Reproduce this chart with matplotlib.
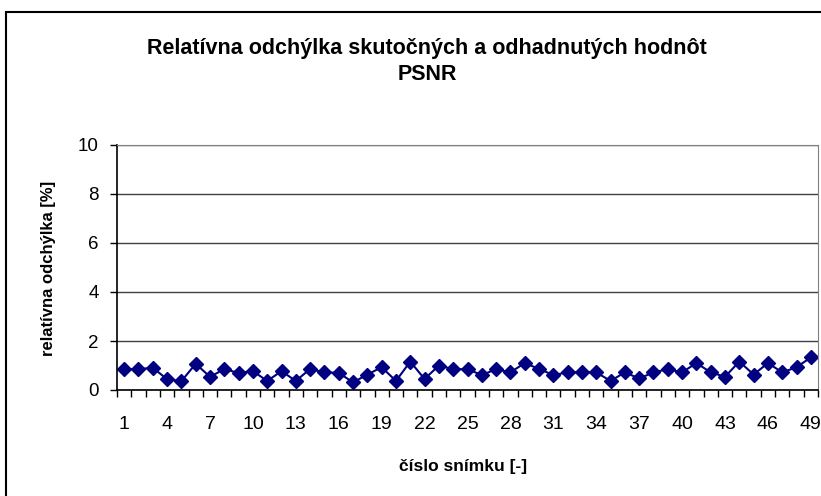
import matplotlib.pyplot as plt
from matplotlib.patches import Rectangle
import numpy as np

plt.rcParams['font.family'] = ['Liberation Sans', 'DejaVu Sans']

# relative deviation per frame [%]
frames = list(range(1, 50))
deviation = [0.85, 0.85, 0.91, 0.44, 0.36, 1.07, 0.54, 0.85, 0.70, 0.77,
             0.37, 0.77, 0.37, 0.86, 0.72, 0.70, 0.31, 0.63, 0.93, 0.37,
             1.16, 0.45, 1.00, 0.85, 0.85, 0.61, 0.85, 0.72, 1.10, 0.86,
             0.61, 0.72, 0.72, 0.72, 0.37, 0.72, 0.47, 0.72, 0.85, 0.72,
             1.10, 0.72, 0.54, 1.16, 0.63, 1.10, 0.72, 0.93, 1.33]
yticks = [0, 2, 4, 6, 8, 10]
xlabels = frames[::3]

W, H = 821, 496
fig = plt.figure(figsize=(W / 100, H / 100), dpi=100)

# outer chart border (cropped at right/bottom)
fig.patches.append(Rectangle((6 / W, -0.05), 1.1, 1 - 12 / H + 0.05,
                             transform=fig.transFigure, fill=False,
                             edgecolor='black', linewidth=1.5))

left, right, top, bottom = 117, 818, 145, 390
ax = fig.add_axes([left / W, 1 - bottom / H, (right - left) / W, (bottom - top) / H])

x = np.arange(len(frames))
ax.plot(x, deviation, color='#000080', linewidth=1.5, marker='D',
        markersize=7, markerfacecolor='#000080', markeredgecolor='#000080')

ax.set_xlim(-0.5, len(frames) - 0.5)
ax.set_ylim(0, 10)
ax.set_yticks(yticks)
ax.set_yticklabels([str(v) for v in yticks], fontsize=13.5)
ax.yaxis.grid(True, color='#404040', linewidth=1)
ax.set_axisbelow(True)

# category ticks between points, labels every third frame
ax.set_xticks(np.arange(len(frames) + 1) - 0.5, minor=False)
ax.set_xticklabels([])
ax.set_xticks([frames.index(v) for v in xlabels], minor=True)
ax.set_xticklabels([str(v) for v in xlabels], minor=True, fontsize=14)
ax.tick_params(axis='x', which='major', length=5, width=1, direction='out')
ax.tick_params(axis='x', which='minor', length=0, pad=19)
ax.tick_params(axis='y', length=5, width=1, direction='out', pad=8)

for s in ['top', 'right']:
    ax.spines[s].set_color('#808080')
ax.spines['left'].set_linewidth(1.2)
ax.spines['bottom'].set_linewidth(1.2)

fig.text(427 / W, 1 - 61.5 / H, 'Relatívna odchýlka skutočných a odhadnutých hodnôt\nPSNR',
         ha='center', va='center', fontsize=15.5, fontweight='bold', linespacing=1.35)
fig.text(463 / W, 1 - 467 / H, 'číslo snímku [-]', ha='center', va='center',
         fontsize=12.5, fontweight='bold')
fig.text(48 / W, 1 - 268 / H, 'relatívna odchýlka [%]', ha='center', va='center',
         rotation=90, fontsize=12, fontweight='bold')

fig.savefig('out.png', dpi=100)
